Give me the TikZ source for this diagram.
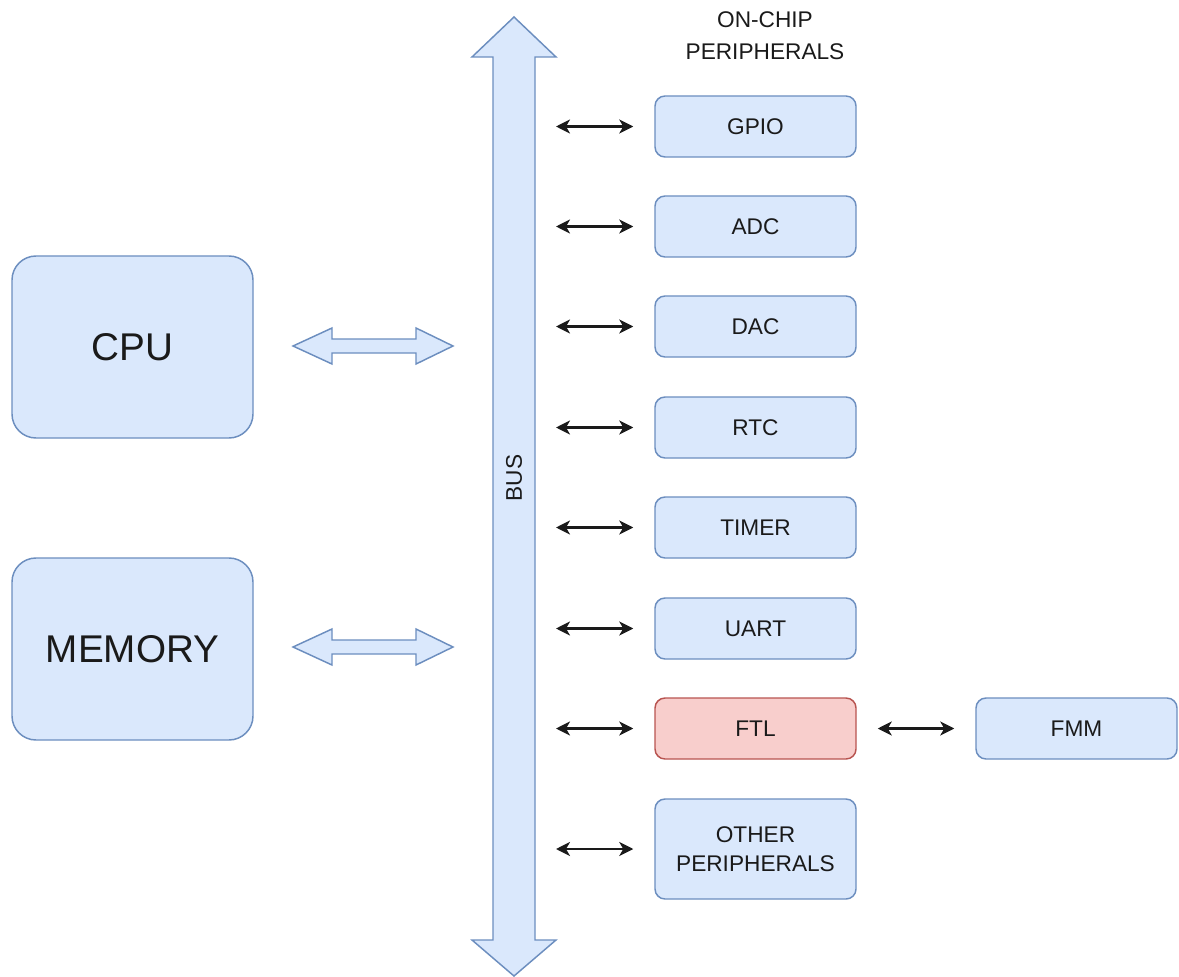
\documentclass[tikz,border=0pt]{standalone}
\usepackage{fontspec}
\setmainfont{Liberation Sans}
\usetikzlibrary{arrows.meta}
\definecolor{bluefill}{HTML}{DAE8FC}
\definecolor{bluedraw}{HTML}{6C8EBF}
\definecolor{redfill}{HTML}{F8CECC}
\definecolor{reddraw}{HTML}{B85450}
\definecolor{ink}{HTML}{1A1A1A}
\begin{document}
\begin{tikzpicture}[x=0.75pt,y=-0.75pt,
  box/.style={draw=bluedraw, fill=bluefill, line width=1.1pt, rounded corners=7.5pt,
    text=ink, font=\fontsize{17}{22}\selectfont, align=center, inner sep=0pt},
  periph/.style={box, minimum width=150.75pt, minimum height=45.75pt},
  bigbox/.style={box, minimum width=180.75pt, minimum height=136.5pt,
    rounded corners=18pt, font=\fontsize{29}{34}\selectfont},
  tip/.style={Stealth[length=10.5pt,width=10.5pt,inset=3pt]},
  conn/.style={{Stealth[length=10.5pt,width=10.5pt,inset=3pt]}-{Stealth[length=10.5pt,width=10.5pt,inset=3pt]},
    draw=ink, line width=1.8pt, shorten <=15.75pt, shorten >=15.75pt},
  hollow/.style={draw=bluedraw, fill=bluefill, line width=1.1pt, line join=miter}]
\useasboundingbox (0,0) rectangle (1179,977);

% system bus
\draw[hollow] (514,17) -- (556,57) -- (535,57) -- (535,940) -- (556,940) -- (514,976)
  -- (472,940) -- (493,940) -- (493,57) -- (472,57) -- cycle;
\node[rotate=90, text=ink, font=\fontsize{17}{22}\selectfont] (buslabel) at (514,478) {BUS};
\coordinate (busr) at (535,0);

% processor and memory
\node[bigbox] (cpu) at (132.5,347) {CPU};
\node[bigbox] (mem) at (132.5,649) {MEMORY};

% wide links to the bus
\foreach \yy in {346,647}{
  \draw[hollow] (293,\yy) -- (332,\yy-18) -- (332,\yy-7) -- (416,\yy-7) -- (416,\yy-18)
    -- (453,\yy) -- (416,\yy+18) -- (416,\yy+7) -- (332,\yy+7) -- (332,\yy+18) -- cycle;
}

% on-chip peripherals
\node[text=ink, font=\fontsize{17}{24}\selectfont, align=center] (title) at (765,36) {ON-CHIP\\PERIPHERALS};
\node[periph] (gpio)  at (755.5,126.5) {GPIO};
\node[periph] (adc)   at (755.5,226.5) {ADC};
\node[periph] (dac)   at (755.5,326.5) {DAC};
\node[periph] (rtc)   at (755.5,427.5) {RTC};
\node[periph] (timer) at (755.5,527.5) {TIMER};
\node[periph] (uart)  at (755.5,628.5) {UART};
\node[periph, draw=reddraw, fill=redfill] (ftl) at (755.5,728.5) {FTL};
\node[periph, minimum height=75pt] (other) at (755.5,849) {OTHER\\PERIPHERALS};
\node[periph] (fmm)   at (1076.5,728.5) {FMM};

\foreach \n in {gpio,adc,dac,rtc,timer,uart,ftl,other}{
  \draw[conn] (\n.west -| busr) -- (\n.west);
}
\draw[conn] (ftl) -- (fmm);
\end{tikzpicture}
\end{document}
